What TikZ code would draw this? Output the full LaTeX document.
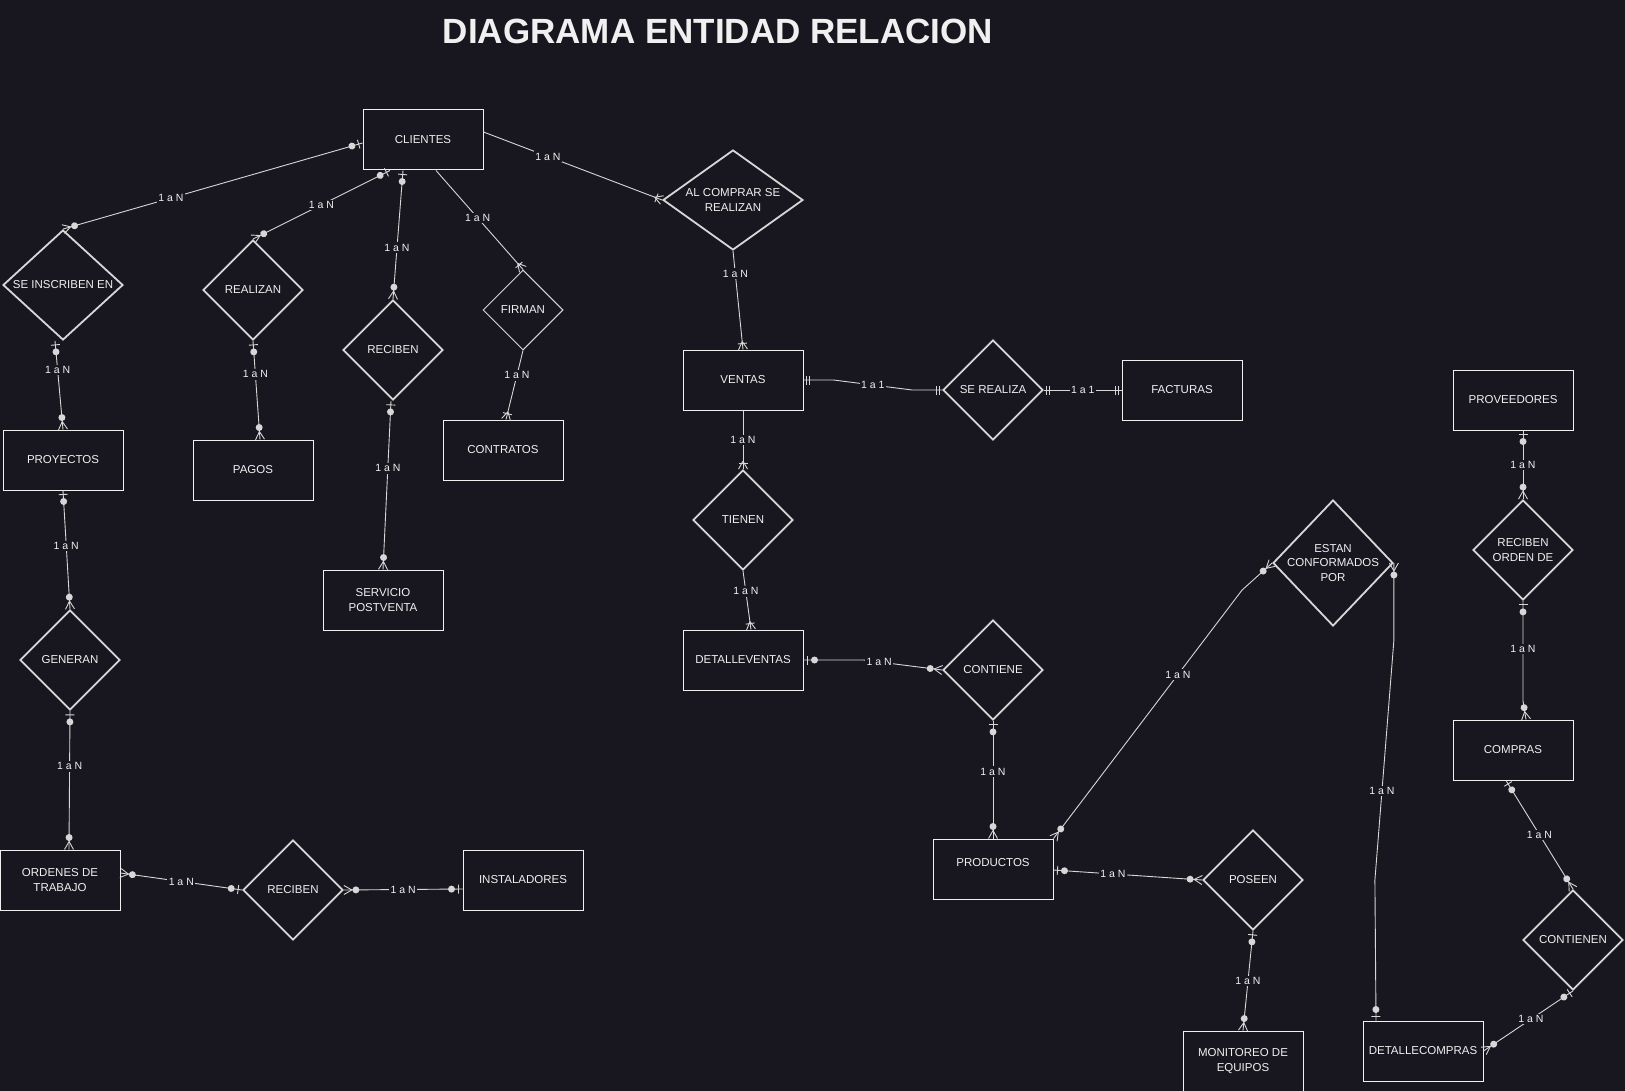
\documentclass[tikz,border=0pt]{standalone}
\usepackage{fontspec}
\setmainfont{Liberation Sans}
\usetikzlibrary{shapes.geometric,decorations.markings}

\definecolor{fondo}{RGB}{24,23,31}
\definecolor{trazo}{RGB}{215,215,215}
\definecolor{texto}{RGB}{240,240,240}

% cardinality marks, x axis pointing into the node
\newcommand\mkdot[1]{\fill[trazo] (-#1,0pt) circle (3.5pt);}
\newcommand\mkbar[1]{\draw[trazo,line width=0.9pt] (-#1,-4.5pt) -- (-#1,4.5pt);}
\newcommand\mkfoot{\draw[trazo,line width=0.9pt] (-8pt,0pt) -- (0pt,4.5pt) (-8pt,0pt) -- (0pt,-4.5pt);}
\newcommand\mkzeroone{\mkbar{4pt}\mkdot{11pt}}
\newcommand\mkzeromany{\mkfoot\mkdot{12pt}}
\newcommand\mkoneone{\mkbar{3pt}\mkbar{6pt}}
\newcommand\mkonemany{\mkfoot\mkbar{6pt}}

\begin{document}
\begin{tikzpicture}[x=1pt, y=-1pt,
    entity/.style={rectangle, draw=texto, line width=1pt, minimum width=120pt, minimum height=60pt, inner sep=0pt, align=center, text=texto, font=\fontsize{11.5}{14.5}\selectfont},
    relation/.style={diamond, draw=trazo, line width=1.8pt, minimum width=100pt, minimum height=100pt, inner sep=0pt},
    rtext/.style={align=center, text=texto, font=\fontsize{11.5}{14.5}\selectfont},
    conn/.style={draw=trazo, line width=0.9pt},
    card/.style={fill=fondo, text=texto, inner sep=1.5pt, font=\fontsize{10.5}{12}\selectfont},
    starttip/.style={postaction={decorate, decoration={markings, mark=at position 0 with {\begin{scope}[xscale=-1]#1\end{scope}}}}},
    endtip/.style={postaction={decorate, decoration={markings, mark=at position 1 with {#1}}}}
]
\useasboundingbox (0,0) rectangle (1625,1091);
\fill[fondo] (0,0) rectangle (1625,1091);

% Title
\node[text=texto, font=\fontsize{35}{42}\selectfont\bfseries] (titulo) at (718,31) {DIAGRAMA ENTIDAD RELACION};

% Entities
\node[entity] (clientes) at (423,140) {CLIENTES};
\node[entity] (proyectos) at (63,460) {PROYECTOS};
\node[entity] (pagos) at (253,470) {PAGOS};
\node[entity] (contratos) at (503,450) {CONTRATOS};
\node[entity] (servicio) at (383,600) {SERVICIO\\POSTVENTA};
\node[entity] (ventas) at (743,380) {VENTAS};
\node[entity] (facturas) at (1182,390) {FACTURAS};
\node[entity] (detventas) at (743,660) {DETALLEVENTAS};
\node[entity] (ordenes) at (60,880) {ORDENES DE\\TRABAJO};
\node[entity] (instaladores) at (523,880) {INSTALADORES};
\node[entity, text depth=14pt] (productos) at (993,869) {PRODUCTOS};
\node[entity] (proveedores) at (1513,400) {PROVEEDORES};
\node[entity] (compras) at (1513,750) {COMPRAS};
\node[entity] (monitoreo) at (1243,1061) {MONITOREO DE\\EQUIPOS};
\node[entity] (detcompras) at (1423,1051) {DETALLECOMPRAS};

% Relations
\node[relation, minimum width=120pt, minimum height=110pt, label={[rtext]center:SE INSCRIBEN EN}] (inscriben) at (63,285) {};
\node[relation, label={[rtext]center:REALIZAN}] (realizan) at (253,290) {};
\node[relation, label={[rtext]center:RECIBEN}] (recibe1) at (393,350) {};
\node[relation, line width=1pt, minimum width=80pt, minimum height=80pt, label={[rtext]center:FIRMAN}] (firman) at (523,310) {};
\node[relation, minimum width=140pt, label={[rtext]center:AL COMPRAR SE\\REALIZAN}] (alcomprar) at (733,200) {};
\node[relation, label={[rtext]center:SE REALIZA}] (serealiza) at (993,390) {};
\node[relation, label={[rtext]center:TIENEN}] (tienen) at (743,520) {};
\node[relation, label={[rtext]center:CONTIENE}] (contiene) at (993,670) {};
\node[relation, label={[rtext]center:GENERAN}] (generan) at (70,660) {};
\node[relation, label={[rtext]center:RECIBEN}] (recibe2) at (293,890) {};
\node[relation, minimum width=120pt, minimum height=126pt, label={[rtext]center:ESTAN\\CONFORMADOS\\POR}] (estan) at (1333,563) {};
\node[relation, label={[rtext]center:POSEEN}] (poseen) at (1253,880) {};
\node[relation, label={[rtext]center:RECIBEN\\ORDEN DE}] (recorden) at (1523,550) {};
\node[relation, label={[rtext]center:CONTIENEN}] (contienen) at (1573,940) {};

% Clientes
\draw[conn, starttip=\mkzeroone, endtip=\mkzeromany] ([yshift=-3pt]clientes.west) -- node[card, pos=0.64] {1 a N} (inscriben.north);
\draw[conn, starttip=\mkzeroone, endtip=\mkzeromany] ([xshift=-33pt]clientes.south) -- node[card] {1 a N} (realizan.north);
\draw[conn, starttip=\mkzeroone, endtip=\mkzeromany] ([xshift=-20pt]clientes.south) -- node[card, pos=0.6] {1 a N} (recibe1.north);
\draw[conn, endtip=\mkonemany] ([xshift=13pt]clientes.south) -- node[card, pos=0.48] {1 a N} (firman.north);
\draw[conn, endtip=\mkonemany] ([yshift=8pt]clientes.east) -- node[card, pos=0.36] {1 a N} (alcomprar.west);

% Left column
\draw[conn, starttip=\mkzeroone, endtip=\mkzeromany] ([xshift=-8pt]inscriben.south) -- node[card, pos=0.33] {1 a N} (proyectos.north);
\draw[conn, starttip=\mkzeroone, endtip=\mkzeromany] (realizan.south) -- node[card, pos=0.34] {1 a N} ([xshift=7pt]pagos.north);
\draw[conn, starttip=\mkzeroone, endtip=\mkzeromany] ([xshift=-2pt]recibe1.south) -- node[card, pos=0.4] {1 a N} (servicio.north);
\draw[conn, endtip=\mkonemany] (firman.south) -- node[card, pos=0.36] {1 a N} ([xshift=3pt]contratos.north);
\draw[conn, starttip=\mkzeroone, endtip=\mkzeromany] (proyectos.south) -- node[card, pos=0.47] {1 a N} (generan.north);
\draw[conn, starttip=\mkzeroone, endtip=\mkzeromany] (generan.south) -- node[card, pos=0.4] {1 a N} ([xshift=9pt]ordenes.north);
\draw[conn, starttip=\mkzeromany, endtip=\mkzeroone] ([yshift=7pt]ordenes.east) -- node[card] {1 a N} (recibe2.west);
\draw[conn, starttip=\mkzeromany, endtip=\mkzeroone] (recibe2.east) -- node[card] {1 a N} ([yshift=-9pt]instaladores.west);

% Ventas
\draw[conn, endtip=\mkonemany] (alcomprar.south) -- node[card, pos=0.23] {1 a N} (ventas.north);
\draw[conn, starttip=\mkoneone, endtip=\mkoneone] (ventas.east) -- ++(30,0) -- node[card] {1 a 1} ([xshift=-30pt]serealiza.west) -- (serealiza.west);
\draw[conn, starttip=\mkoneone, endtip=\mkoneone] (serealiza.east) -- node[card] {1 a 1} (facturas.west);
\draw[conn, endtip=\mkonemany] (ventas.south) -- node[card] {1 a N} (tienen.north);
\draw[conn, endtip=\mkonemany] (tienen.south) -- node[card, pos=0.35] {1 a N} ([xshift=8pt]detventas.north);
\draw[conn, starttip=\mkzeroone, endtip=\mkzeromany] (detventas.east) -- ++(60,0) -- node[card, pos=0.2] {1 a N} (contiene.west);

% Productos
\draw[conn, starttip=\mkzeroone, endtip=\mkzeromany] (contiene.south) -- node[card, pos=0.43] {1 a N} (productos.north);
\draw[conn, starttip=\mkzeroone, endtip=\mkzeromany] ([yshift=-1pt]productos.east) -- node[card, pos=0.4] {1 a N} (poseen.west);
\draw[conn, starttip=\mkzeroone, endtip=\mkzeromany] (poseen.south) -- node[card] {1 a N} (monitoreo.north);
\draw[conn, starttip=\mkzeromany, endtip=\mkzeromany] (productos.north east) -- node[card, pos=0.66] {1 a N} ([xshift=-30pt, yshift=-27pt]estan.west) -- (estan.west);
\draw[conn, starttip=\mkzeromany, endtip=\mkzeroone] (estan.east) -- ++(0,77) -- node[card, pos=0.63] {1 a N} ++(-19,240) -- ([xshift=-47pt]detcompras.north);

% Compras
\draw[conn, starttip=\mkzeroone, endtip=\mkzeromany] ([xshift=10pt]proveedores.south) -- node[card] {1 a N} (recorden.north);
\draw[conn, starttip=\mkzeroone, endtip=\mkzeromany] (recorden.south) -- node[card, pos=0.48] {1 a N} ++(0,100) -- ([xshift=13pt]compras.north);
\draw[conn, starttip=\mkzeroone, endtip=\mkzeromany] ([xshift=-7pt]compras.south) -- node[card] {1 a N} (contienen.north);
\draw[conn, starttip=\mkzeroone, endtip=\mkzeromany] (contienen.south) -- node[card, pos=0.47] {1 a N} (detcompras.east);

\end{tikzpicture}
\end{document}
